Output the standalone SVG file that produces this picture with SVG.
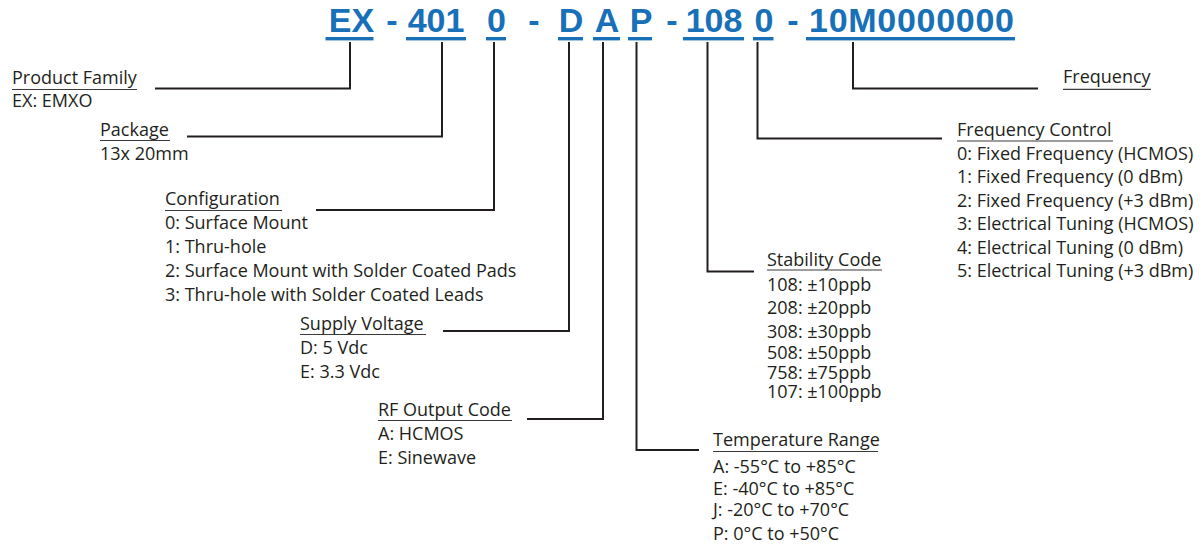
<svg xmlns="http://www.w3.org/2000/svg" width="1203" height="550" viewBox="0 0 1203 550">
<style>
.hd{font-family:"Liberation Sans",Arial,sans-serif;font-weight:bold;font-size:34px;fill:#1770b8;text-anchor:middle}
.ul{fill:#1770b8}
.t{font-family:"Open Sans","Noto Sans",sans-serif;font-size:18px;fill:#231f20}
.tu{stroke:#3a3a3a;stroke-width:1.2;fill:none}
.c{stroke:#231f20;stroke-width:2;fill:none}
</style>
<rect width="1203" height="550" fill="#ffffff"/>
<g id="part-number">
<text class="hd" x="351.5" y="32">EX</text>
<text class="hd" x="392" y="32">-</text>
<text class="hd" x="436" y="32">401</text>
<text class="hd" x="496.5" y="32">0</text>
<text class="hd" x="534" y="32">-</text>
<text class="hd" x="571" y="32">D</text>
<text class="hd" x="607" y="32">A</text>
<text class="hd" x="641" y="32">P</text>
<text class="hd" x="672" y="32">-</text>
<text class="hd" x="714" y="32">108</text>
<text class="hd" x="764" y="32">0</text>
<text class="hd" x="793" y="32">-</text>
<text class="hd" x="911.5" y="32" textLength="205" lengthAdjust="spacing">10M0000000</text>
<rect class="ul" x="325.5" y="37" width="48" height="3.4"/>
<rect class="ul" x="406" y="37" width="60" height="3.4"/>
<rect class="ul" x="486" y="37" width="20" height="3.4"/>
<rect class="ul" x="558" y="37" width="25" height="3.4"/>
<rect class="ul" x="593" y="37" width="27" height="3.4"/>
<rect class="ul" x="628" y="37" width="24" height="3.4"/>
<rect class="ul" x="683" y="37" width="61" height="3.4"/>
<rect class="ul" x="753" y="37" width="20.5" height="3.4"/>
<rect class="ul" x="806" y="37" width="209" height="3.4"/>
</g>
<g id="connectors">
<path class="c" d="M350,42 V88.5 H155"/>
<path class="c" d="M442,42 V136.5 H187"/>
<path class="c" d="M494,42 V210 H316"/>
<path class="c" d="M569,42 V331 H443"/>
<path class="c" d="M603,42 V419 H527"/>
<path class="c" d="M636.5,42 V450 H699"/>
<path class="c" d="M707.5,42 V271.5 H754"/>
<path class="c" d="M757.5,42 V138.5 H942"/>
<path class="c" d="M853,42 V88.5 H1038"/>
</g>
<g id="product-family">
<text class="t" x="12" y="84">Product Family</text>
<line class="tu" x1="12" y1="89.5" x2="137" y2="89.5"/>
<text class="t" x="12" y="107">EX: EMXO</text>
</g>
<g id="package">
<text class="t" x="100" y="136">Package</text>
<line class="tu" x1="100" y1="140.5" x2="170" y2="140.5"/>
<text class="t" x="100" y="160">13x 20mm</text>
</g>
<g id="configuration">
<text class="t" x="165" y="205">Configuration</text>
<line class="tu" x1="165" y1="210.5" x2="282" y2="210.5"/>
<text class="t" x="165" y="228.5">0: Surface Mount</text>
<text class="t" x="165" y="252.5">1: Thru-hole</text>
<text class="t" x="165" y="276.5">2: Surface Mount with Solder Coated Pads</text>
<text class="t" x="165" y="300.5">3: Thru-hole with Solder Coated Leads</text>
</g>
<g id="supply-voltage">
<text class="t" x="300" y="330">Supply Voltage</text>
<line class="tu" x1="300" y1="334.5" x2="426" y2="334.5"/>
<text class="t" x="300" y="354">D: 5 Vdc</text>
<text class="t" x="300" y="377.5">E: 3.3 Vdc</text>
</g>
<g id="rf-output-code">
<text class="t" x="378" y="415.5">RF Output Code</text>
<line class="tu" x1="378" y1="420.5" x2="512" y2="420.5"/>
<text class="t" x="378" y="440">A: HCMOS</text>
<text class="t" x="378" y="463.5">E: Sinewave</text>
</g>
<g id="temperature-range">
<text class="t" x="713" y="446">Temperature Range</text>
<line class="tu" x1="713" y1="451.5" x2="878" y2="451.5"/>
<text class="t" x="713" y="472.5">A: -55°C to +85°C</text>
<text class="t" x="713" y="494.5">E: -40°C to +85°C</text>
<text class="t" x="713" y="516">J: -20°C to +70°C</text>
<text class="t" x="713" y="539.5">P: 0°C to +50°C</text>
</g>
<g id="stability-code">
<text class="t" x="767" y="265.5">Stability Code</text>
<line class="tu" x1="767" y1="270" x2="882" y2="270"/>
<text class="t" x="767" y="290.5">108: ±10ppb</text>
<text class="t" x="767" y="314">208: ±20ppb</text>
<text class="t" x="767" y="338">308: ±30ppb</text>
<text class="t" x="767" y="359">508: ±50ppb</text>
<text class="t" x="767" y="379">758: ±75ppb</text>
<text class="t" x="767" y="398">107: ±100ppb</text>
</g>
<g id="frequency-control">
<text class="t" x="957" y="136">Frequency Control</text>
<line class="tu" x1="957" y1="141" x2="1113" y2="141"/>
<text class="t" x="957" y="159.5">0: Fixed Frequency (HCMOS)</text>
<text class="t" x="957" y="183">1: Fixed Frequency (0 dBm)</text>
<text class="t" x="957" y="206.5">2: Fixed Frequency (+3 dBm)</text>
<text class="t" x="957" y="230">3: Electrical Tuning (HCMOS)</text>
<text class="t" x="957" y="253.5">4: Electrical Tuning (0 dBm)</text>
<text class="t" x="957" y="277">5: Electrical Tuning (+3 dBm)</text>
</g>
<g id="frequency">
<text class="t" x="1063" y="83">Frequency</text>
<line class="tu" x1="1063" y1="89.3" x2="1151" y2="89.3"/>
</g>
</svg>
